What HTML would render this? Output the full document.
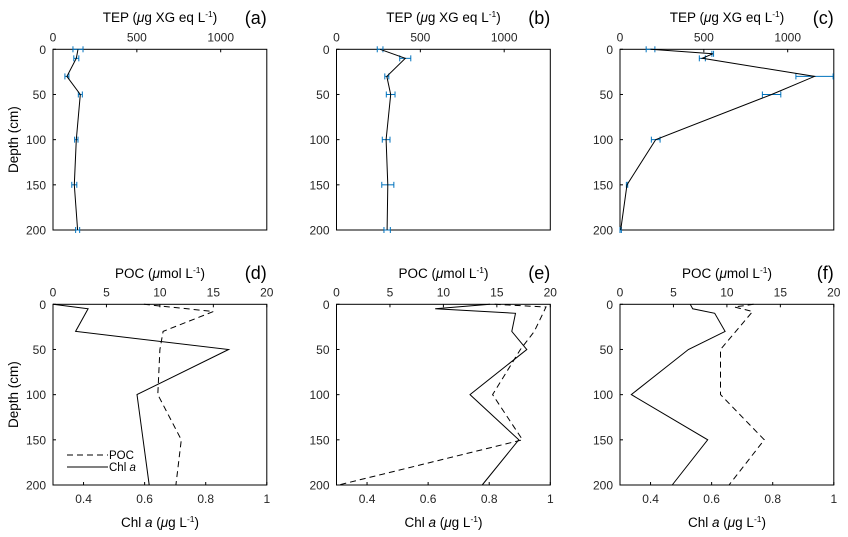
<!DOCTYPE html>
<html><head><meta charset="utf-8">
<style>
body{margin:0;background:#fff;}
svg{display:block;font-family:"Liberation Sans",Arial,sans-serif;}
</style></head>
<body>
<svg id="chart" width="848" height="537" viewBox="0 0 848 537"></svg>
<script>
// ---- data ----
const depthsTEP_a = [0, 10, 30, 50, 100, 150, 200];
const tepA = [149, 139, 83, 163, 139, 127, 147];
const tepErrA = [30, 15, 12, 12, 10, 15, 12];
const depthsTEP_b = [0, 10, 30, 50, 100, 150, 200];
const tepB = [260, 410, 300, 323, 296, 306, 302];
const tepErrB = [17, 33, 12, 26, 23, 36, 19];
const depthsTEP_c = [0, 5, 10, 30, 50, 100, 150, 200];
const tepC = [182, 553, 491, 1160, 904, 213, 42, 4];
const tepErrC = [26, 5, 18, 111, 55, 26, 4, 4];

const depthsChl_d = [0, 5, 30, 50, 100, 150, 200];
const chlD = [0.30, 0.415, 0.374, 0.875, 0.575, 0.595, 0.615];
const depthsPOC_d = [0, 8, 30, 50, 100, 150, 200];
const pocD = [8.5, 15.0, 10.3, 10.0, 9.8, 12.0, 11.5];

const depthsChl_e = [0, 5, 10, 30, 50, 100, 150, 200];
const chlE = [0.803, 0.623, 0.886, 0.874, 0.923, 0.737, 0.897, 0.777];
const depthsPOC_e = [0, 3, 30, 50, 100, 150, 200];
const pocE = [14.8, 19.6, 18.5, 17.2, 14.6, 17.4, 0.2];

const depthsChl_f = [0, 5, 10, 30, 50, 100, 150, 200];
const chlF = [0.530, 0.538, 0.610, 0.644, 0.524, 0.337, 0.587, 0.471];
const depthsPOC_f = [0, 3, 8, 50, 100, 150, 200];
const pocF = [12.5, 10.7, 12.4, 9.4, 9.4, 13.5, 10.2];

const depthTicks = [0, 50, 100, 150, 200];
const tepTicks = [0, 500, 1000];
const pocTicks = [0, 5, 10, 15, 20];
const chlTicks = [0.4, 0.6, 0.8, 1];
const chlTickLabels = ["0.4", "0.6", "0.8", "1"];

// ---- drawing ----
const svg = document.getElementById('chart');
const NS = 'http://www.w3.org/2000/svg';
function el(tag, attrs, parent) {
  const e = document.createElementNS(NS, tag);
  for (const k in attrs) e.setAttribute(k, attrs[k]);
  (parent || svg).appendChild(e);
  return e;
}
const W = 213.8;
const lefts = [53, 336.5, 620];
const topRow = {t: 49.3, b: 230};
const botRow = {t: 304.3, b: 485};

function scale(d0, d1, r0, r1) { return v => r0 + (v - d0) / (d1 - d0) * (r1 - r0); }

function frame(g, L, row, ticksTop, xTop, topLabels, ticksBot, xBot, botLabels) {
  const y = scale(0, 200, row.t, row.b);
  const box = el('rect', {x: L, y: row.t, width: W, height: row.b - row.t, fill: 'none', stroke: '#000', 'stroke-width': 1}, g);
  
  
  depthTicks.forEach(d => {
    el('line', {x1: L, x2: L + 3, y1: y(d), y2: y(d), stroke: '#000'}, g);
    const t = el('text', {x: L - 7, y: y(d) + 4.5, 'text-anchor': 'end', 'font-size': 12, fill: '#262626'}, g);
    t.textContent = d;
    
    
  });
  ticksTop.forEach((v, i) => {
    el('line', {x1: xTop(v), x2: xTop(v), y1: row.t, y2: row.t + 3, stroke: '#000'}, g);
    const t = el('text', {x: xTop(v), y: row.t - 8, 'text-anchor': 'middle', 'font-size': 12, fill: '#262626'}, g);
    t.textContent = topLabels[i];
    
    
  });
  if (ticksBot) ticksBot.forEach((v, i) => {
    el('line', {x1: xBot(v), x2: xBot(v), y1: row.b, y2: row.b - 3, stroke: '#000'}, g);
    const t = el('text', {x: xBot(v), y: row.b + 18, 'text-anchor': 'middle', 'font-size': 12, fill: '#262626'}, g);
    t.textContent = botLabels[i];
    
    
  });
  return y;
}
function line(g, xs, ds, xf, yf, dash, name) {
  const pts = xs.map((v, i) => xf(v).toFixed(1) + ',' + yf(ds[i]).toFixed(1)).join(' ');
  const p = el('polyline', {points: pts, fill: 'none', stroke: '#000', 'stroke-width': 1, 'stroke-dasharray': dash || 'none'}, g);
  
  
}
function label(g, x, y, html, size, anchor, name) {
  const t = el('text', {x: x, y: y, 'text-anchor': anchor || 'middle', 'font-size': size, fill: '#000'}, g);
  t.innerHTML = html;
  
  
  return t;
}
const tepTitle = 'TEP (<tspan font-style="italic">μ</tspan>g XG eq L<tspan dy="-5" font-size="8.5">-1</tspan><tspan dy="5">)</tspan>';
const pocTitle = 'POC (<tspan font-style="italic">μ</tspan>mol L<tspan dy="-5" font-size="8.5">-1</tspan><tspan dy="5">)</tspan>';
const chlTitle = 'Chl <tspan font-style="italic">a</tspan> (<tspan font-style="italic">μ</tspan>g L<tspan dy="-5" font-size="8.5">-1</tspan><tspan dy="5">)</tspan>';

const tepSets = [[tepA, tepErrA, depthsTEP_a], [tepB, tepErrB, depthsTEP_b], [tepC, tepErrC, depthsTEP_c]];
['a', 'b', 'c'].forEach((lt, k) => {
  const L = lefts[k];
  const g = el('g', {});
  
  
  const x = scale(0, 1275, L, L + W);
  const y = frame(g, L, topRow, tepTicks, x, tepTicks.map(String));
  const [vals, errs, ds] = tepSets[k];
  vals.forEach((v, i) => {
    const yy = y(ds[i]);
    const eb = el('g', {stroke: '#0072BD', 'stroke-width': 1}, g);
    
    
    el('line', {x1: x(v - errs[i]), x2: x(v + errs[i]), y1: yy, y2: yy}, eb);
    el('line', {x1: x(v - errs[i]), x2: x(v - errs[i]), y1: yy - 3, y2: yy + 3}, eb);
    el('line', {x1: x(v + errs[i]), x2: x(v + errs[i]), y1: yy - 3, y2: yy + 3}, eb);
  });
  line(g, vals, ds, x, y, null, 'tep-line');
  label(g, L + 107, 22, tepTitle, 13.5, 'middle', 'top-x-axis-title');
  label(g, L + W, 24, '(' + lt + ')', 18, 'end', 'panel-letter');
  if (k === 0) {
    const t = label(g, 0, 0, 'Depth (cm)', 13.5, 'middle', 'y-axis-title');
    t.setAttribute('transform', `translate(18,${(topRow.t + topRow.b) / 2}) rotate(-90)`);
  }
});

const botSets = [[chlD, depthsChl_d, pocD, depthsPOC_d], [chlE, depthsChl_e, pocE, depthsPOC_e], [chlF, depthsChl_f, pocF, depthsPOC_f]];
['d', 'e', 'f'].forEach((lt, k) => {
  const L = lefts[k];
  const g = el('g', {});
  
  
  const xp = scale(0, 20, L, L + W);
  const xc = scale(0.3, 1, L, L + W);
  const y = frame(g, L, botRow, pocTicks, xp, pocTicks.map(String), chlTicks, xc, chlTickLabels);
  const [chl, dc, poc, dp] = botSets[k];
  line(g, chl, dc, xc, y, null, 'chl-a-line');
  line(g, poc, dp, xp, y, '6,4', 'poc-line');
  label(g, L + 107, 278, pocTitle, 13.5, 'middle', 'top-x-axis-title');
  label(g, L + 107, 527, chlTitle, 13.5, 'middle', 'bottom-x-axis-title');
  label(g, L + W, 279, '(' + lt + ')', 18, 'end', 'panel-letter');
  if (k === 0) {
    const t = label(g, 0, 0, 'Depth (cm)', 13.5, 'middle', 'y-axis-title');
    t.setAttribute('transform', `translate(18,${(botRow.t + botRow.b) / 2}) rotate(-90)`);
    const lg = el('g', {}, g);
    
    
    el('line', {x1: 67, x2: 108, y1: 455, y2: 455, stroke: '#000', 'stroke-dasharray': '6,4'}, lg);
    label(lg, 109, 459, 'POC', 11.5, 'start', 'legend-entry-poc');
    el('line', {x1: 67, x2: 108, y1: 467, y2: 467, stroke: '#000'}, lg);
    label(lg, 109, 471, 'Chl <tspan font-style="italic">a</tspan>', 11.5, 'start', 'legend-entry-chl-a');
  }
});
</script>
</body></html>
